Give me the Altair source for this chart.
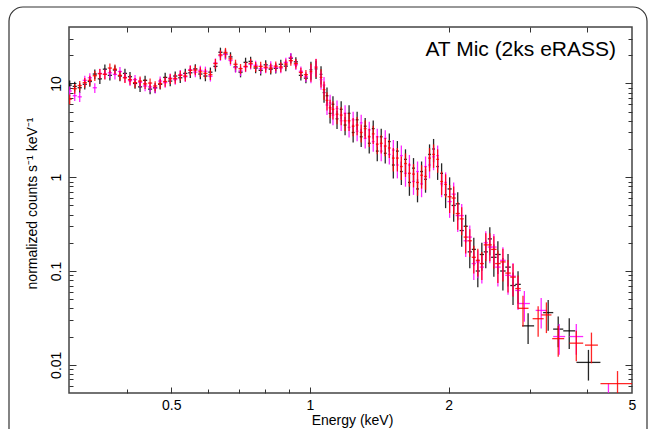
import numpy as np
import pandas as pd
import altair as alt

FONT = "Liberation Sans"
TITLE_TEXT = "AT Mic (2ks eRASS)"
X_TITLE = "Energy (keV)"
Y_TITLE = "normalized counts s\u207b\u00b9 keV\u207b\u00b9"

# shared energy grid (keV) for the densely binned part of the spectrum
energy_kev = [0.3011, 0.3087, 0.3165, 0.3246, 0.3329, 0.3413, 0.3500, 0.3589, 0.3680, 0.3774,
              0.3870, 0.3968, 0.4069, 0.4173, 0.4279, 0.4388, 0.4499, 0.4614, 0.4731, 0.4851,
              0.4975, 0.5101, 0.5231, 0.5364, 0.5500, 0.5640, 0.5783, 0.5931, 0.6081, 0.6236,
              0.6394, 0.6557, 0.6724, 0.6895, 0.7070, 0.7250, 0.7435, 0.7624, 0.7818, 0.8017,
              0.8221, 0.8430, 0.8645, 0.8865, 0.9090, 0.9321, 0.9558, 0.9801, 1.005, 1.031,
              1.057, 1.073, 1.089, 1.106, 1.122, 1.145, 1.169, 1.192, 1.216, 1.241,
              1.266, 1.292, 1.318, 1.345, 1.372, 1.400, 1.428, 1.457, 1.487, 1.517,
              1.548, 1.579, 1.612, 1.644, 1.678, 1.712, 1.747, 1.782, 1.818, 1.855,
              1.893, 1.931, 1.970, 2.010, 2.051, 2.093, 2.135, 2.178, 2.223, 2.268,
              2.314, 2.361, 2.408, 2.457, 2.507, 2.558, 2.623, 2.691, 2.759, 2.829]

black_flux = [9.6, 9.3, 9.0, 9.8, 10.5, 12.6, 11.2, 14.2, 12.2, 13.9,
              12.0, 12.8, 11.8, 10.0, 9.2, 10.8, 8.7, 9.0, 9.8, 11.6,
              10.6, 12.0, 11.5, 12.8, 13.0, 14.3, 12.6, 12.0, 13.2, 15.2,
              21.5, 20.6, 19.2, 15.0, 13.2, 16.8, 17.2, 14.6, 13.8, 15.8,
              14.2, 14.5, 16.0, 15.3, 18.6, 17.0, 12.2, 11.4, 14.0, 14.3,
              12.5, 8.0, 7.4, 4.8, 6.0, 4.2, 5.3, 3.6, 4.8, 3.0,
              4.1, 2.7, 3.5, 2.3, 3.3, 1.9, 2.7, 1.8, 2.4, 1.35,
              1.9, 1.15, 1.55, 0.88, 1.25, 0.75, 1.15, 0.95, 1.75, 2.0,
              1.3, 1.1, 0.65, 0.75, 0.5, 0.52, 0.27, 0.3, 0.16, 0.17,
              0.1, 0.15, 0.16, 0.22, 0.14, 0.15, 0.1, 0.11, 0.07, 0.072]

magenta_flux = [8.3, 7.4, 7.2, 10.8, 11.5, 9.0, 12.8, 12.6, 13.0, 12.5,
                13.4, 11.6, 10.7, 11.0, 10.3, 9.4, 9.2, 8.9, 10.6, 10.2,
                11.4, 11.0, 12.4, 11.8, 14.0, 13.2, 13.8, 13.5, 11.9, 16.5,
                19.8, 20.4, 17.6, 14.8, 13.6, 15.0, 16.0, 15.6, 14.4, 14.6,
                15.4, 14.8, 14.6, 16.8, 18.9, 15.8, 13.5, 11.8, 12.9, 15.0,
                11.0, 9.6, 5.9, 6.2, 4.6, 5.4, 4.0, 4.8, 3.4, 4.1,
                3.1, 3.8, 2.6, 3.2, 2.4, 2.7, 1.9, 2.6, 1.75, 1.95,
                1.35, 1.7, 1.1, 1.35, 0.9, 1.15, 0.85, 1.3, 1.35, 1.65,
                1.7, 0.85, 0.88, 0.55, 0.66, 0.39, 0.39, 0.21, 0.23, 0.12,
                0.125, 0.11, 0.2, 0.18, 0.18, 0.11, 0.13, 0.09, 0.088, 0.062]

red_flux = [6.8, 8.8, 9.5, 10.2, 10.8, 12.1, 12.7, 12.5, 14.6, 14.2,
            12.2, 11.5, 11.0, 10.2, 10.6, 9.9, 10.1, 9.4, 10.0, 10.5,
            11.2, 11.3, 12.2, 12.0, 13.8, 13.9, 13.3, 12.8, 12.4, 16.3,
            20.2, 21.4, 18.3, 16.0, 14.4, 15.2, 16.4, 15.1, 15.2, 14.9,
            14.6, 15.3, 15.0, 16.1, 17.5, 16.3, 13.1, 12.4, 13.4, 14.9,
            11.6, 8.6, 6.6, 5.5, 5.3, 4.7, 4.6, 4.0, 4.0, 3.5,
            3.6, 3.0, 3.3, 2.7, 2.9, 2.25, 2.3, 2.15, 2.05, 1.6,
            1.6, 1.3, 1.4, 1.1, 1.08, 0.88, 1.05, 1.02, 1.6, 1.75,
            1.55, 0.9, 0.84, 0.62, 0.6, 0.41, 0.36, 0.23, 0.21, 0.14,
            0.13, 0.12, 0.19, 0.19, 0.17, 0.12, 0.125, 0.095, 0.086, 0.065]

# sparsely binned high-energy points (energy, flux, bin half-width in dex)
black_hi_e = [2.975, 3.289, 3.458, 3.654, 4.022]
black_hi_flux = [0.026, 0.036, 0.024, 0.023, 0.0106]
black_hi_hw = [0.013, 0.011, 0.011, 0.013, 0.026]

magenta_hi_e = [2.92, 3.176, 3.475, 3.785, 4.445]
magenta_hi_flux = [0.045, 0.038, 0.020, 0.020, 0.0046]
magenta_hi_hw = [0.012, 0.012, 0.013, 0.015, 0.03]

red_hi_e = [2.90, 3.128, 3.26, 3.458, 3.785, 4.083, 4.651]
red_hi_flux = [0.040, 0.031, 0.034, 0.019, 0.017, 0.0162, 0.0063]
red_hi_hw = [0.012, 0.012, 0.011, 0.013, 0.015, 0.014, 0.037]

# error sizes by energy band
band_edges_kev = [1.0, 1.5, 2.0, 2.5]
rel_err_by_band = [0.12, 0.22, 0.28, 0.33, 0.38]
half_width_dex_by_band = [0.0045, 0.003, 0.003, 0.0045, 0.006]
sparse_rel_err = 0.36

x_label_values = [0.5, 1, 2, 5]
x_tick_values = [0.4, 0.5, 0.6, 0.7, 0.8, 0.9, 1, 2, 3, 4]
y_label_values = [0.01, 0.1, 1, 10]
y_tick_values = [0.006, 0.007, 0.008, 0.009, 0.01, 0.02, 0.03, 0.04, 0.05, 0.06, 0.07, 0.08, 0.09,
                 0.1, 0.2, 0.3, 0.4, 0.5, 0.6, 0.7, 0.8, 0.9, 1, 2, 3, 4, 5, 6, 7, 8, 9,
                 10, 20, 30]

series_colors = {"black": "#000000", "magenta": "#ff00ff", "red": "#ff0000"}


def build(e, v, e_hi, v_hi, hw_hi):
    e = np.array(e, dtype=float)
    v = np.array(v, dtype=float)
    band = np.searchsorted(band_edges_kev, e)
    rel = np.array(rel_err_by_band)[band]
    hw = np.array(half_width_dex_by_band)[band]
    e_all = np.concatenate([e, np.array(e_hi)])
    v_all = np.concatenate([v, np.array(v_hi)])
    rel_all = np.concatenate([rel, np.full(len(e_hi), sparse_rel_err)])
    hw_all = np.concatenate([hw, np.array(hw_hi)])
    return pd.DataFrame({
        "e": e_all,
        "e_lo": e_all * 10 ** (-hw_all),
        "e_hi": e_all * 10 ** hw_all,
        "v": v_all,
        "v_lo": v_all * (1 - rel_all),
        "v_hi": v_all * (1 + rel_all),
    })


df_black = build(energy_kev, black_flux, black_hi_e, black_hi_flux, black_hi_hw)
df_magenta = build(energy_kev, magenta_flux, magenta_hi_e, magenta_hi_flux, magenta_hi_hw)
df_red = build(energy_kev, red_flux, red_hi_e, red_hi_flux, red_hi_hw)

W, H = 563, 366
xscale = alt.Scale(type="log", domain=[0.3, 5], nice=False)
yscale = alt.Scale(type="log", domain=[0.005, 40], nice=False)

TICK_COLOR = "#333333"
major_x = "datum.value == 0.5 || datum.value == 1 || datum.value == 2"
major_y = "datum.value == 0.01 || datum.value == 0.1 || datum.value == 1 || datum.value == 10"

axis_x_labels = alt.Axis(orient="bottom", values=x_label_values, format="~g", ticks=False, tickSize=0,
                         domain=False, grid=False, labelFont=FONT, labelFontSize=14, labelColor="#000000",
                         labelPadding=5, labelFlush=False, labelOverlap=False, labelBaseline="top",
                         title=X_TITLE, titleFont=FONT, titleFontSize=14, titleFontWeight="normal",
                         titleColor="#000000", titleX=283, titleY=31, titleAlign="center",
                         titleBaseline="alphabetic")
axis_x_ticks_bottom = alt.Axis(orient="top", offset=-H, values=x_tick_values, labels=False, domain=False,
                               grid=False, tickColor=TICK_COLOR, tickWidth=1,
                               tickSize={"condition": {"test": major_x, "value": 6}, "value": 4},
                               title=None)
axis_x_ticks_top = alt.Axis(orient="bottom", offset=-H, values=x_tick_values, labels=False, domain=False,
                            grid=False, tickColor=TICK_COLOR, tickWidth=1,
                            tickSize={"condition": {"test": major_x, "value": 5}, "value": 5},
                            title=None)

axis_y_labels = alt.Axis(orient="left", values=y_label_values, format="~g", ticks=False, tickSize=0,
                         domain=False, grid=False, labelFont=FONT, labelFontSize=14, labelColor="#000000",
                         labelAngle=270, labelAlign="center", labelBaseline="bottom", labelPadding=6,
                         labelFlush=False, labelOverlap=False,
                         title=Y_TITLE, titleFont=FONT, titleFontSize=14, titleFontWeight="normal",
                         titleColor="#000000", titleAngle=270, titleX=-33, titleY=176,
                         titleAlign="center", titleBaseline="alphabetic")
axis_y_ticks_left = alt.Axis(orient="right", offset=-W, values=y_tick_values, labels=False, domain=False,
                             grid=False, tickColor=TICK_COLOR, tickWidth=1,
                             tickSize={"condition": {"test": major_y, "value": 7}, "value": 4},
                             title=None)
axis_y_ticks_right = alt.Axis(orient="left", offset=-W, values=y_tick_values, labels=False, domain=False,
                              grid=False, tickColor=TICK_COLOR, tickWidth=1,
                              tickSize={"condition": {"test": major_y, "value": 7}, "value": 4},
                              title=None)


def vbars(df, color, op, xaxis=None, yaxis=None):
    return alt.Chart(df).mark_rule(color=color, strokeWidth=1.3, opacity=op, clip=True).encode(
        x=alt.X("e:Q", scale=xscale, axis=xaxis),
        y=alt.Y("v_lo:Q", scale=yscale, axis=yaxis),
        y2="v_hi:Q",
    )


def hbars(df, color, op, xaxis=None, yaxis=None):
    return alt.Chart(df).mark_rule(color=color, strokeWidth=1.3, opacity=op, clip=True).encode(
        x=alt.X("e_lo:Q", scale=xscale, axis=xaxis),
        x2="e_hi:Q",
        y=alt.Y("v:Q", scale=yscale, axis=yaxis),
    )


one_row = pd.DataFrame({"k": [0]})

title_text = alt.Chart(one_row).mark_text(
    font=FONT, fontSize=21, align="right", baseline="alphabetic", color="#000000"
).encode(x=alt.value(547), y=alt.value(29), text=alt.value(TITLE_TEXT))

frame = alt.Chart(one_row).mark_rect(
    cornerRadius=14, fillOpacity=0, stroke="#333333", strokeWidth=1.2, clip=False
).encode(x=alt.value(-60), x2=alt.value(578), y=alt.value(-20), y2=alt.value(440))

chart = alt.layer(
    vbars(df_black, series_colors["black"], 0.85, axis_x_labels, axis_y_labels),
    hbars(df_black, series_colors["black"], 0.85, axis_x_ticks_bottom, axis_y_ticks_left),
    vbars(df_magenta, series_colors["magenta"], 0.85, axis_x_ticks_top, axis_y_ticks_right),
    hbars(df_magenta, series_colors["magenta"], 0.85),
    vbars(df_red, series_colors["red"], 0.85),
    hbars(df_red, series_colors["red"], 0.85),
    title_text,
    frame,
).resolve_axis(x="independent", y="independent").properties(
    width=W, height=H,
    padding={"left": 69, "top": 27, "right": 17, "bottom": 36},
    autosize=alt.AutoSizeParams(type="none"),
    background="white",
).configure_view(stroke="#444444", strokeWidth=1.5)

chart.save("out.html", embed_options={"renderer": "svg", "actions": False})
